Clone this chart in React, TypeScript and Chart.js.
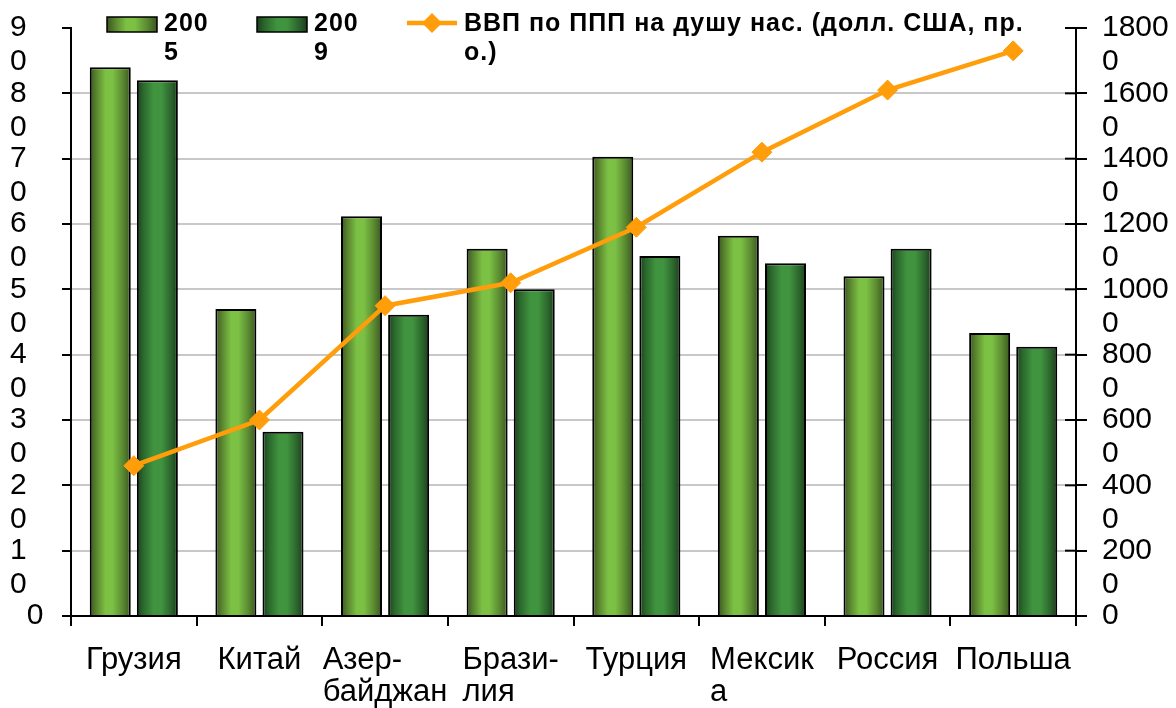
import React, { useEffect, useRef } from "react";
import { Chart, registerables } from "chart.js";

Chart.register(...registerables);

// ---------- data ----------
const categories: string[][] = [
  ["Грузия"],
  ["Китай"],
  ["Азер-", "байджан"],
  ["Брази-", "лия"],
  ["Турция"],
  ["Мексик", "а"],
  ["Россия"],
  ["Польша"],
];
const series2005 = [84, 47, 61.2, 56.2, 70.3, 58.2, 52, 43.3];
const series2009 = [82, 28.2, 46.1, 50, 55.1, 54, 56.2, 41.2];
const gdpPpp = [4600, 6000, 9500, 10200, 11900, 14200, 16100, 17300];
const seriesNames = ["2005", "2009", "ВВП по ППП на душу нас. (долл. США, пр. о.)"];
const leftTickLabels = ["0", "10", "20", "30", "40", "50", "60", "70", "80", "90"];
const rightTickLabels = ["0", "2000", "4000", "6000", "8000", "10000", "12000", "14000", "16000", "18000"];

// ---------- styles ----------
const FONT = '"Liberation Sans", Arial, Helvetica, sans-serif';
const ORANGE = "#ff9d0a";
const GRID = "#c8c8c8";
const grad2005 = [
  [0, "#3a5420"],
  [0.14, "#567f2d"],
  [0.38, "#7cc044"],
  [0.56, "#7cc044"],
  [0.8, "#5b8b31"],
  [1, "#3b5621"],
];
const grad2009 = [
  [0, "#1b3f1c"],
  [0.15, "#2a672c"],
  [0.4, "#40933f"],
  [0.6, "#40933f"],
  [0.85, "#2a622b"],
  [1, "#1a3d1b"],
];
const gradients = [grad2005, grad2009];

function makeGrad(ctx: CanvasRenderingContext2D, x0: number, x1: number, stops: any[]) {
  const g = ctx.createLinearGradient(x0, 0, x1, 0);
  stops.forEach(([o, c]) => g.addColorStop(o, c));
  return g;
}

function wrapText(ctx: CanvasRenderingContext2D, text: string, maxW: number): string[] {
  const words = text.split(" ");
  const lines: string[] = [];
  let cur = "";
  const pushWord = (w: string) => {
    let piece = "";
    for (const ch of w) {
      if (ctx.measureText(piece + ch).width > maxW && piece) {
        lines.push(piece);
        piece = ch;
      } else piece += ch;
    }
    return piece;
  };
  for (const w of words) {
    const test = cur ? cur + " " + w : w;
    if (ctx.measureText(test).width <= maxW) {
      cur = test;
    } else {
      if (cur) lines.push(cur);
      if (ctx.measureText(w).width > maxW) cur = pushWord(w);
      else cur = w;
    }
  }
  if (cur) lines.push(cur);
  return lines;
}

function drawDiamond(ctx: CanvasRenderingContext2D, x: number, y: number, r: number) {
  ctx.beginPath();
  ctx.moveTo(x, y - r);
  ctx.lineTo(x + r, y);
  ctx.lineTo(x, y + r);
  ctx.lineTo(x - r, y);
  ctx.closePath();
  ctx.fill();
}

const barGradientPlugin = {
  id: "barGradient",
  beforeDatasetsDraw(chart: any) {
    const ctx = chart.ctx;
    [0, 1].forEach((di) => {
      const meta = chart.getDatasetMeta(di);
      meta.data.forEach((el: any) => {
        const w = el.width;
        el.options.backgroundColor = makeGrad(ctx, el.x - w / 2, el.x + w / 2, gradients[di]);
      });
    });
  },
};

const decorPlugin = {
  id: "decor",
  afterDraw(chart: any) {
    const ctx: any = chart.ctx;
    const xs = chart.scales.x;
    const y1 = chart.scales.y1;
    ctx.save();

    // inner tick marks on right axis
    ctx.strokeStyle = "#000";
    ctx.lineWidth = 2;
    y1.ticks.forEach((_t: any, i: number) => {
      const py = y1.getPixelForTick(i);
      ctx.beginPath();
      ctx.moveTo(y1.left - 11, py);
      ctx.lineTo(y1.left, py);
      ctx.stroke();
    });

    // category labels (left-aligned block centred on category)
    ctx.font = `31px ${FONT}`;
    ctx.fillStyle = "#000";
    ctx.textBaseline = "middle";
    ctx.textAlign = "left";
    categories.forEach((lines, i) => {
      const cx = xs.getPixelForValue(i);
      const maxW = Math.max(...lines.map((l) => ctx.measureText(l).width));
      const left = cx - maxW / 2;
      lines.forEach((l, j) => {
        const lw = ctx.measureText(l).width;
        const lx = lines.length === 1 ? cx - lw / 2 : left;
        ctx.fillText(l, lx, 660 + j * 32);
      });
    });

    // legend
    ctx.font = `bold 25px ${FONT}`;
    if ("letterSpacing" in ctx) ctx.letterSpacing = "1px";
    const items = [
      { kind: "bar", ds: 0, x: 107, maxW: 48 },
      { kind: "bar", ds: 1, x: 257, maxW: 48 },
      { kind: "line", ds: 2, x: 407, maxW: 575 },
    ];
    items.forEach((it) => {
      if (it.kind === "bar") {
        ctx.fillStyle = makeGrad(ctx, it.x, it.x + 50, gradients[it.ds]);
        ctx.fillRect(it.x, 17, 50, 15);
        ctx.strokeStyle = "#000";
        ctx.lineWidth = 1.5;
        ctx.strokeRect(it.x, 17, 50, 15);
      } else {
        ctx.strokeStyle = ORANGE;
        ctx.lineWidth = 4.5;
        ctx.beginPath();
        ctx.moveTo(it.x, 23);
        ctx.lineTo(it.x + 50, 23);
        ctx.stroke();
        ctx.fillStyle = ORANGE;
        drawDiamond(ctx, it.x + 25, 23, 10);
      }
      ctx.fillStyle = "#000";
      const lines = wrapText(ctx, seriesNames[it.ds], it.maxW);
      lines.forEach((l, j) => ctx.fillText(l, it.x + 57, 24 + j * 29));
    });
    ctx.restore();
  },
};

export default function App() {
  const ref = useRef<HTMLCanvasElement | null>(null);
  useEffect(() => {
    if (!ref.current) return;
    Chart.defaults.font.family = FONT;
    Chart.defaults.color = "#000";
    const chart = new Chart(ref.current, {
      type: "bar",
      data: {
        labels: categories.map((c) => c.join("")),
        datasets: [
          {
            type: "bar",
            label: seriesNames[0],
            data: series2005,
            yAxisID: "y",
            backgroundColor: () => "#7cc044",
            borderColor: "#000",
            borderWidth: 2,
            order: 1,
          },
          {
            type: "bar",
            label: seriesNames[1],
            data: series2009,
            yAxisID: "y",
            backgroundColor: () => "#40933f",
            borderColor: "#000",
            borderWidth: 2,
            order: 1,
          },
          {
            type: "line",
            label: seriesNames[2],
            data: gdpPpp,
            yAxisID: "y1",
            borderColor: ORANGE,
            borderWidth: 4.5,
            pointStyle: "rectRot",
            pointRadius: 10,
            pointBackgroundColor: ORANGE,
            pointBorderColor: ORANGE,
            pointBorderWidth: 1,
            tension: 0,
            order: 0,
          } as any,
        ],
      },
      options: {
        animation: false,
        responsive: false,
        events: [],
        layout: { padding: { top: 28, left: 10, right: 0, bottom: 0 } },
        datasets: { bar: { categoryPercentage: 0.75, barPercentage: 0.87 } } as any,
        plugins: { legend: { display: false }, tooltip: { enabled: false } },
        scales: {
          x: {
            offset: true,
            grid: { drawOnChartArea: false, offset: true, color: "#000", lineWidth: 2, tickLength: 10 },
            border: { color: "#000", width: 2 },
            ticks: { display: false },
            afterFit: (s: any) => {
              s.height = 92;
              s.paddingLeft = s.paddingRight = s.paddingTop = s.paddingBottom = 0;
            },
          },
          y: {
            position: "left",
            min: 0,
            max: 90,
            ticks: {
              stepSize: 10,
              autoSkip: false,
              crossAlign: "far",
              labelOffset: 17,
              padding: 4,
              font: { size: 30, lineHeight: 34 / 30 },
              callback: (v: any) => {
                const s = leftTickLabels[Math.round(Number(v) / 10)];
                return s.length > 1 ? [s.slice(0, -1), s.slice(-1)] : ["  " + s, ""];
              },
            },
            grid: {
              color: (c: any) => (c.tick && (c.tick.value === 90 || c.tick.value === 0) ? "rgba(0,0,0,0)" : GRID),
              lineWidth: 2,
              tickColor: "#000",
              tickLength: 9,
            },
            border: { color: "#000", width: 2 },
            afterFit: (s: any) => {
              s.width = 61;
              s.paddingLeft = s.paddingRight = s.paddingTop = s.paddingBottom = 0;
            },
          },
          y1: {
            position: "right",
            min: 0,
            max: 18000,
            ticks: {
              stepSize: 2000,
              autoSkip: false,
              crossAlign: "near",
              labelOffset: 17,
              padding: 15,
              font: { size: 30, lineHeight: 34 / 30 },
              callback: (v: any) => {
                const s = rightTickLabels[Math.round(Number(v) / 2000)];
                return s.length > 1 ? [s.slice(0, -1), s.slice(-1)] : [s, ""];
              },
            },
            grid: { drawOnChartArea: false, color: "#000", lineWidth: 2, tickLength: 11 },
            border: { color: "#000", width: 2 },
            afterFit: (s: any) => {
              s.width = 100;
              s.paddingLeft = s.paddingRight = s.paddingTop = s.paddingBottom = 0;
            },
          },
        },
      } as any,
      plugins: [barGradientPlugin, decorPlugin],
    });
    return () => chart.destroy();
  }, []);

  return (
    <div style={{ position: "fixed", left: 0, top: 0, width: 1176, height: 708, background: "#fff" }}>
      <canvas ref={ref} width={1176} height={708} />
    </div>
  );
}
